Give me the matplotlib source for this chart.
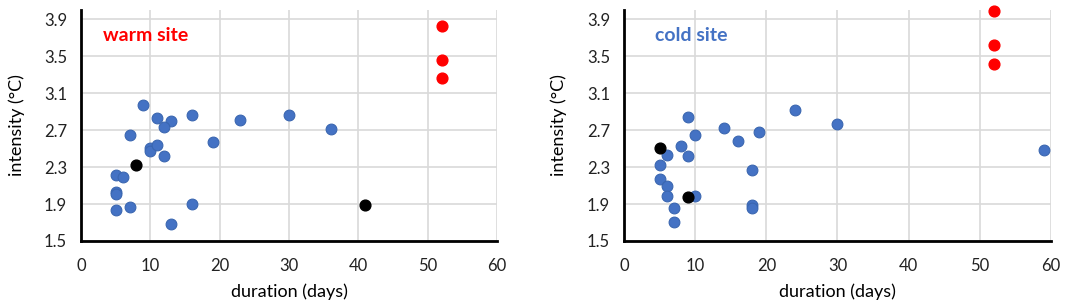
import matplotlib.pyplot as plt

plt.rcParams['font.family'] = ['Lato', 'DejaVu Sans']

# warm site
warm_blue_x = [9, 11, 13, 16, 12, 23, 30, 36, 7, 19, 10, 10, 11, 12, 5, 6, 5, 5, 16, 7, 5, 13]
warm_blue_y = [2.97, 2.83, 2.80, 2.86, 2.73, 2.81, 2.86, 2.71, 2.65, 2.57, 2.51, 2.47, 2.54, 2.42,
               2.21, 2.19, 2.03, 2.01, 1.90, 1.87, 1.83, 1.68]
warm_black_x = [8, 41]
warm_black_y = [2.32, 1.89]
warm_red_x = [52, 52, 52]
warm_red_y = [3.83, 3.46, 3.26]

# cold site
cold_blue_x = [24, 30, 9, 14, 19, 10, 16, 8, 6, 9, 59, 5, 18, 5, 6, 6, 10, 7, 18, 18, 7]
cold_blue_y = [2.92, 2.77, 2.84, 2.72, 2.68, 2.65, 2.58, 2.53, 2.43, 2.42, 2.48, 2.32, 2.27, 2.17,
               2.09, 1.99, 1.99, 1.86, 1.89, 1.86, 1.71]
cold_black_x = [5, 9]
cold_black_y = [2.51, 1.98]
cold_red_x = [52, 52, 52]
cold_red_y = [3.99, 3.62, 3.42]

x_ticks = [0, 10, 20, 30, 40, 50, 60]
y_ticks = [1.5, 1.9, 2.3, 2.7, 3.1, 3.5, 3.9]

fig = plt.figure(figsize=(10.84, 3.05), dpi=100)
ax1 = fig.add_axes([0.0747, 0.21, 0.3838, 0.757])
ax2 = fig.add_axes([0.5756, 0.21, 0.394, 0.757])

paneles = [
    (ax1, warm_blue_x, warm_blue_y, warm_black_x, warm_black_y, warm_red_x, warm_red_y,
     'warm site', '#FF0000', 3.2),
    (ax2, cold_blue_x, cold_blue_y, cold_black_x, cold_black_y, cold_red_x, cold_red_y,
     'cold site', '#4472C4', 4.3),
]

for ax, bx, by, kx, ky, rx, ry, nome, cor, tx in paneles:
    ax.scatter(bx, by, s=60, color='#4472C4', edgecolors='#3A66B0', linewidths=0.8, zorder=3, clip_on=False)
    ax.scatter(kx, ky, s=60, color='black', zorder=4, clip_on=False)
    ax.scatter(rx, ry, s=60, color='#FF0000', zorder=3, clip_on=False)
    ax.set_xlim(0, 60)
    ax.set_ylim(1.5, 4.0)
    ax.set_xticks(x_ticks)
    ax.set_yticks(y_ticks)
    ax.set_yticklabels([f'{v:.1f}' for v in y_ticks])
    ax.grid(True, color='#D9D9D9', linewidth=1.2)
    ax.set_axisbelow(True)
    for s in ['top', 'right']:
        ax.spines[s].set_visible(False)
    for s in ['left', 'bottom']:
        ax.spines[s].set_linewidth(2)
        ax.spines[s].set_color('black')
    ax.tick_params(axis='both', length=0, labelsize=12, colors='#222222')
    ax.tick_params(axis='x', pad=12)
    ax.tick_params(axis='y', pad=10)
    ax.set_xlabel('duration (days)', fontsize=13, labelpad=7)
    ax.set_ylabel('intensity (°C)', fontsize=13, labelpad=14)
    ax.text(tx, 3.72, nome, color=cor, fontsize=14, fontweight='bold', va='center')

fig.savefig('out.png', dpi=100)
